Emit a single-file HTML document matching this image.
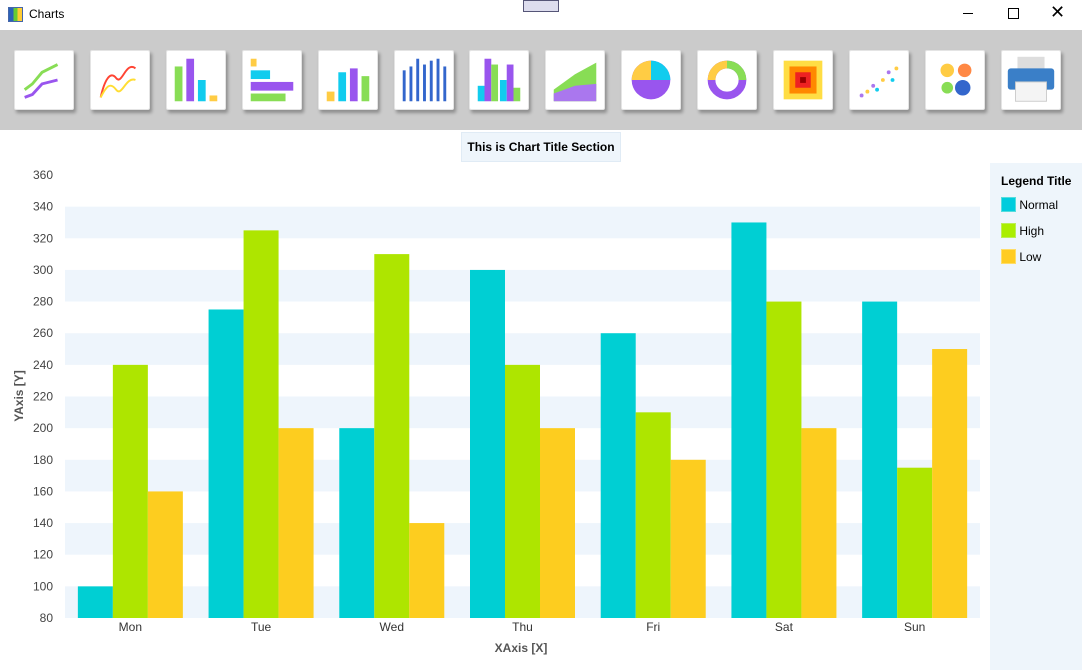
<!DOCTYPE html>
<html><head><meta charset="utf-8"><style>
body{margin:0;width:1082px;height:670px;overflow:hidden;background:#fff;font-family:"Liberation Sans",Arial,sans-serif;position:relative}
.tb{position:absolute;left:0;top:30px;width:1082px;height:100px;background:#cbcbcb}
.btn{position:absolute;top:20px;width:58px;height:58px;background:#fff;border:1px solid #e4e4e4;border-radius:2px;box-shadow:2px 3px 3px rgba(0,0,0,.3)}
</style></head><body>
<div style="position:absolute;left:0;top:0;width:1082px;height:30px">
<div style="position:absolute;left:8px;top:7px;width:13px;height:13px;border:1px solid #4466aa;background:linear-gradient(90deg,#2a62b8 33%,#6c3 33%,#6c3 66%,#fc3 66%)"></div>
<div style="position:absolute;left:29px;top:7px;font-size:12px">Charts</div>
<div style="position:absolute;left:523px;top:0;width:34px;height:10px;border:1px solid #557;background:#dde"></div>
<div style="position:absolute;left:963px;top:13px;width:10px;height:1px;background:#000"></div>
<div style="position:absolute;left:1008px;top:8px;width:9px;height:9px;border:1px solid #000"></div>
<div style="position:absolute;left:1050px;top:2px;font-size:18px">✕</div>
</div>
<div class="tb" id="tb"></div>
<div style="position:absolute;left:461px;top:132px;width:160px;height:30px;background:#eef5fb;border:1px solid #e0ebf5;box-sizing:border-box;font-weight:bold;font-size:12px;text-align:center;line-height:29px">This is Chart Title Section</div>
<div style="position:absolute;left:990px;top:163px;width:92px;height:507px;background:#eef5fb;font-size:12px">
<div style="position:absolute;left:11px;top:11px;font-weight:bold">Legend Title</div>
<div style="position:absolute;left:11px;top:34px"><span style="display:inline-block;width:13px;height:13px;border:1px solid #5dd;background:#0cd;vertical-align:-3px"></span> Normal</div>
<div style="position:absolute;left:11px;top:60px"><span style="display:inline-block;width:13px;height:13px;border:1px solid #be5;background:#ae0;vertical-align:-3px"></span> High</div>
<div style="position:absolute;left:11px;top:86px"><span style="display:inline-block;width:13px;height:13px;border:1px solid #fd6;background:#fc2;vertical-align:-3px"></span> Low</div>
</div>
<svg id="chart" width="990" height="670" style="position:absolute;left:0;top:0"></svg>
<script>
const categories=["Mon","Tue","Wed","Thu","Fri","Sat","Sun"];
const normalValues=[100,275,200,300,260,330,280];
const highValues=[240,325,310,240,210,280,175];
const lowValues=[160,200,140,200,180,200,250];
const yTicks=[80,100,120,140,160,180,200,220,240,260,280,300,320,340,360];
const NS="http://www.w3.org/2000/svg";
const svg=document.getElementById('chart');
const x0=65,x1=980,yMin=80,yMax=360,py0=618,py1=175;
const y=v=>py0-(v-yMin)/(yMax-yMin)*(py0-py1);
const bw=(x1-x0)/categories.length;
function mk(t,a){const e=document.createElementNS(NS,t);for(const k in a)e.setAttribute(k,a[k]);svg.appendChild(e);return e;}
for(let i=0;i<yTicks.length-1;i++){
  if(i%2===0){const r=mk('rect',{x:x0,y:y(yTicks[i+1]),width:x1-x0,height:y(yTicks[i])-y(yTicks[i+1]),fill:'#eef5fc'});
  
  }
}
yTicks.forEach(v=>{const t=mk('text',{x:53,y:y(v)+4,'text-anchor':'end','font-size':12,fill:'#444'});t.textContent=v;

});
const series=[[normalValues,'#00cfd3','bar-normal'],[highValues,'#aee500','bar-high'],[lowValues,'#fdcd1f','bar-low']];
categories.forEach((c,i)=>{
  const cx=x0+bw*(i+0.5);
  series.forEach((s,j)=>{
    const w=35,bx=cx-52.5+j*w;
    const r=mk('rect',{x:bx,y:y(s[0][i]),width:w,height:py0-y(s[0][i]),fill:s[1]});
    
    
  });
  const t=mk('text',{x:cx,y:631,'text-anchor':'middle','font-size':12,fill:'#333'});t.textContent=c;
  
  
});
const xt=mk('text',{x:521,y:652,'text-anchor':'middle','font-size':12,'font-weight':'bold',fill:'#555'});xt.textContent='XAxis [X]';


const yt=mk('text',{x:0,y:0,'text-anchor':'middle','font-size':12,'font-weight':'bold',fill:'#555',transform:'translate(23,396) rotate(-90)'});yt.textContent='YAxis [Y]';


const tb=document.getElementById('tb');
const names=['line','spline','bar','hbar','combo','stacked','grouped','area','pie','donut','heatmap','scatter','bubble','print'];
const icons=[
'<polyline points="10,40 18,34 28,22 44,14" stroke="#8d5" stroke-width="3" fill="none"/><polyline points="10,48 18,45 28,34 44,30" stroke="#95e" stroke-width="3" fill="none"/>',
'<path d="M10,48 C14,30 20,20 26,28 S36,10 46,18" stroke="#f43" stroke-width="2" fill="none"/><path d="M10,48 C16,36 20,32 26,40 S36,26 46,30" stroke="#fd3" stroke-width="2" fill="none"/>',
'<rect x="8" y="16" width="8" height="36" fill="#8d5"/><rect x="20" y="8" width="8" height="44" fill="#95e"/><rect x="32" y="30" width="8" height="22" fill="#1ce"/><rect x="44" y="46" width="8" height="6" fill="#fc4"/>',
'<rect x="8" y="8" width="6" height="8" fill="#fc4"/><rect x="8" y="20" width="20" height="9" fill="#1ce"/><rect x="8" y="32" width="44" height="9" fill="#95e"/><rect x="8" y="44" width="36" height="8" fill="#8d5"/>',
'<rect x="8" y="42" width="8" height="10" fill="#fc4"/><rect x="20" y="22" width="8" height="30" fill="#1ce"/><rect x="32" y="18" width="8" height="34" fill="#95e"/><rect x="44" y="26" width="8" height="26" fill="#8d5"/>',
'<g fill="#36c"><rect x="8" y="20" width="3" height="32"/><rect x="15" y="16" width="3" height="36"/><rect x="22" y="8" width="3" height="44"/><rect x="29" y="14" width="3" height="38"/><rect x="36" y="10" width="3" height="42"/><rect x="43" y="8" width="3" height="44"/><rect x="50" y="16" width="3" height="36"/></g>',
'<rect x="8" y="36" width="7" height="16" fill="#1ce"/><rect x="15" y="8" width="7" height="44" fill="#95e"/><rect x="22" y="14" width="7" height="38" fill="#8d5"/><rect x="31" y="30" width="7" height="22" fill="#1ce"/><rect x="38" y="14" width="7" height="38" fill="#95e"/><rect x="45" y="38" width="7" height="14" fill="#8d5"/>',
'<polygon points="8,52 8,40 30,24 52,12 52,52" fill="#8d5"/><polygon points="8,52 8,44 30,36 52,34 52,52" fill="#a7e"/>',
'<circle cx="30" cy="30" r="20" fill="#95e"/><path d="M30,30 L30,10 A20,20 0 0 1 50,30Z" fill="#1ce"/><path d="M30,30 L10,30 A20,20 0 0 1 30,10Z" fill="#fc4"/>',
'<circle cx="30" cy="30" r="16" fill="none" stroke="#95e" stroke-width="8"/><path d="M30,14 A16,16 0 0 1 46,30" fill="none" stroke="#8d5" stroke-width="8"/><path d="M14,30 A16,16 0 0 1 30,14" fill="none" stroke="#fc4" stroke-width="8"/>',
'<rect x="10" y="10" width="40" height="40" fill="#fd4"/><rect x="16" y="16" width="28" height="28" fill="#f80"/><rect x="22" y="22" width="16" height="16" fill="#e22"/><rect x="27" y="27" width="6" height="6" fill="#900"/>',
'<g fill="#a7e"><circle cx="12" cy="46" r="2"/><circle cx="24" cy="36" r="2"/><circle cx="40" cy="22" r="2"/></g><g fill="#fc4"><circle cx="18" cy="42" r="2"/><circle cx="34" cy="30" r="2"/><circle cx="48" cy="18" r="2"/></g><g fill="#1ce"><circle cx="28" cy="40" r="2"/><circle cx="44" cy="30" r="2"/></g>',
'<circle cx="22" cy="20" r="7" fill="#fc4"/><circle cx="40" cy="20" r="7" fill="#f84"/><circle cx="22" cy="38" r="6" fill="#8d5"/><circle cx="38" cy="38" r="8" fill="#36c"/>',
'<rect x="16" y="6" width="28" height="14" fill="#ddd"/><rect x="6" y="18" width="48" height="22" rx="3" fill="#3a7fc8"/><rect x="14" y="32" width="32" height="20" fill="#f4f4f4" stroke="#ccc"/>'];
names.forEach((n,i)=>{const d=document.createElement('div');d.className='btn';d.style.left=(14+i*75.9)+'px';


d.innerHTML='<svg width="58" height="58" viewBox="0 0 60 60">'+icons[i]+'</svg>';tb.appendChild(d);});
</script>
</body></html>
